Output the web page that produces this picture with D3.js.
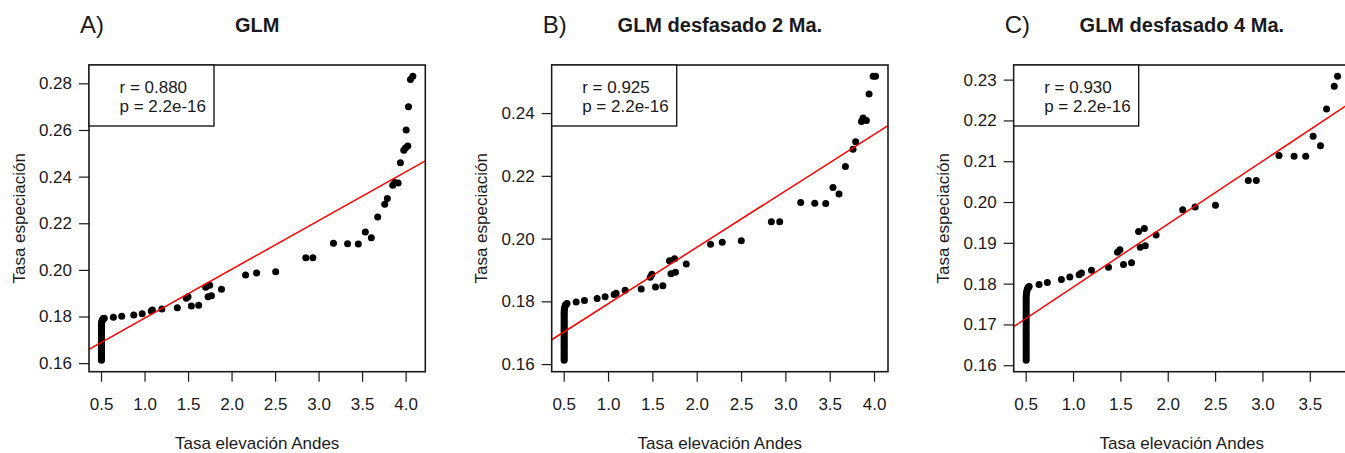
<!DOCTYPE html>
<html>
<head>
<meta charset="utf-8">
<script src="https://cdn.jsdelivr.net/npm/d3@7"></script>
<style>
  html, body { margin: 0; padding: 0; background: #fff; }
  svg { display: block; font-family: "Liberation Sans", Arial, sans-serif; }
</style>
</head>
<body>
<div id="chart"></div>
<script>
// Panel letters, titles and fit statistics
const panelLetters = ['A)', 'B)', 'C)'];
const panelTitles = ['GLM', 'GLM desfasado 2 Ma.', 'GLM desfasado 4 Ma.'];
const rValues = ['0.880', '0.925', '0.930'];
const pValues = ['2.2e-16', '2.2e-16', '2.2e-16'];

// Fitted regression lines (intercept, slope)
const intercepts = [0.1584, 0.1612, 0.1637];
const slopes = [0.0209, 0.0180, 0.01543];

// Tick labels
const xTicksAB = [0.5, 1.0, 1.5, 2.0, 2.5, 3.0, 3.5, 4.0];
const xTicksC = [0.5, 1.0, 1.5, 2.0, 2.5, 3.0, 3.5];
const yTicksA = [0.16, 0.18, 0.20, 0.22, 0.24, 0.26, 0.28];
const yTicksB = [0.16, 0.18, 0.20, 0.22, 0.24];
const yTicksC = [0.16, 0.17, 0.18, 0.19, 0.20, 0.21, 0.22, 0.23];

// Dense column of points at the lowest elevation rate (same in all panels)
const colX = [0.505, 0.505, 0.505, 0.505, 0.505, 0.505, 0.505, 0.505, 0.505, 0.505,
              0.505, 0.505, 0.505, 0.505, 0.505, 0.505, 0.505, 0.505, 0.505, 0.505,
              0.505, 0.505, 0.505, 0.505, 0.505, 0.505, 0.505, 0.507, 0.510, 0.514,
              0.520, 0.528, 0.537];
const colY = [0.1612, 0.1618, 0.1624, 0.1630, 0.1636, 0.1642, 0.1648, 0.1654, 0.1660, 0.1666,
              0.1672, 0.1678, 0.1684, 0.1690, 0.1696, 0.1702, 0.1708, 0.1714, 0.1720, 0.1726,
              0.1732, 0.1738, 0.1744, 0.1750, 0.1756, 0.1762, 0.1768, 0.1774, 0.1779, 0.1784,
              0.1788, 0.1791, 0.1793];

// Panel A: GLM
const aX = [0.642, 0.738, 0.876, 0.973, 1.077, 1.090, 1.199, 1.377, 1.480, 1.500,
            1.538, 1.622, 1.703, 1.749, 1.730, 1.769, 1.884, 2.161, 2.288, 2.507,
            2.853, 2.934, 3.171, 3.333, 3.456, 3.537, 3.606, 3.679, 3.760, 3.790,
            3.852, 3.875, 3.914, 3.940, 3.979, 3.998, 4.025, 4.006, 4.033, 4.056, 4.083];
const aY = [0.1797, 0.1801, 0.1807, 0.1812, 0.1824, 0.1828, 0.1832, 0.1838, 0.1878, 0.1885,
            0.1845, 0.1848, 0.1925, 0.1934, 0.1885, 0.1889, 0.1917, 0.1978, 0.1987, 0.1992,
            0.2052, 0.2052, 0.2114, 0.2112, 0.2111, 0.2162, 0.2138, 0.2227, 0.2282, 0.2306,
            0.2363, 0.2375, 0.2373, 0.2460, 0.2513, 0.2523, 0.2531, 0.2600, 0.2700, 0.2816, 0.2830];

// Panel B: GLM lagged 2 Ma
const bX = [0.640, 0.734, 0.877, 0.967, 1.069, 1.091, 1.193, 1.374, 1.476, 1.494,
            1.535, 1.618, 1.693, 1.750, 1.710, 1.760, 1.882, 2.156, 2.288, 2.503,
            2.842, 2.936, 3.173, 3.331, 3.455, 3.537, 3.605, 3.677, 3.763, 3.793,
            3.858, 3.876, 3.914, 3.944, 3.990, 4.017];
const bY = [0.1798, 0.1803, 0.1809, 0.1815, 0.1822, 0.1826, 0.1835, 0.1839, 0.1877, 0.1886,
            0.1846, 0.1850, 0.1929, 0.1936, 0.1888, 0.1893, 0.1919, 0.1982, 0.1988, 0.1993,
            0.2054, 0.2054, 0.2115, 0.2113, 0.2112, 0.2163, 0.2142, 0.2230, 0.2285, 0.2309,
            0.2373, 0.2384, 0.2376, 0.2461, 0.2517, 0.2517];

// Panel C: GLM lagged 4 Ma
const cX = [0.641, 0.729, 0.877, 0.966, 1.064, 1.089, 1.195, 1.375, 1.470, 1.495,
            1.533, 1.618, 1.692, 1.753, 1.710, 1.763, 1.877, 2.158, 2.289, 2.504,
            2.851, 2.935, 3.175, 3.334, 3.457, 3.535, 3.613, 3.677, 3.758, 3.793];
const cY = [0.1798, 0.1803, 0.1810, 0.1816, 0.1822, 0.1826, 0.1833, 0.1840, 0.1877, 0.1883,
            0.1847, 0.1851, 0.1928, 0.1935, 0.1889, 0.1893, 0.1919, 0.1981, 0.1988, 0.1992,
            0.2053, 0.2053, 0.2114, 0.2112, 0.2112, 0.2161, 0.2138, 0.2228, 0.2284, 0.2308];

const panelX = [aX, bX, cX];
const panelY = [aY, bY, cY];
const panelXTicks = [xTicksAB, xTicksAB, xTicksC];
const panelYTicks = [yTicksA, yTicksB, yTicksC];

const width = 1345;
const height = 453;
const plotLefts = [89, 551.7, 1013.7];
const plotW = 336.3;
const plotTop = 65;
const plotBottom = 371.7;
const ink = '#1a1a1a';

const svg = d3.select('#chart').append('svg')
    .attr('width', width)
    .attr('height', height);

// R-style axis range: data extent padded 4% on each side
function padded(values) {
    const [lo, hi] = d3.extent(values);
    const pad = (hi - lo) * 0.04;
    return [lo - pad, hi + pad];
}

panelTitles.forEach((title, i) => {
    const left = plotLefts[i];
    const right = left + plotW;
    const cx = (left + right) / 2;

    const points = colX.map((x, k) => ({ x, y: colY[k] }))
        .concat(panelX[i].map((x, k) => ({ x, y: panelY[i][k] })));

    const x = d3.scaleLinear()
        .domain(padded(points.map(d => d.x)))
        .range([left, right]);
    const y = d3.scaleLinear()
        .domain(padded(points.map(d => d.y)))
        .range([plotBottom, plotTop]);

    const g = svg.append('g');

    // clip for regression line
    svg.append('clipPath')
        .attr('id', `clip${i}`)
        .append('rect')
        .attr('x', left)
        .attr('y', plotTop)
        .attr('width', plotW)
        .attr('height', plotBottom - plotTop);

    // x axis
    g.append('g')
        .attr('transform', `translate(0,${plotBottom})`)
        .call(d3.axisBottom(x)
            .tickValues(panelXTicks[i])
            .tickFormat(d3.format('.1f'))
            .tickSize(10)
            .tickPadding(16))
        .call(ax => ax.select('.domain').remove())
        .call(ax => ax.selectAll('line').attr('stroke', ink).attr('stroke-width', 1.2))
        .call(ax => ax.selectAll('text')
            .attr('fill', ink)
            .style('font-size', '17px')
            .style('font-family', '"Liberation Sans", Arial, sans-serif'));

    // y axis
    g.append('g')
        .attr('transform', `translate(${left},0)`)
        .call(d3.axisLeft(y)
            .tickValues(panelYTicks[i])
            .tickFormat(d3.format('.2f'))
            .tickSize(10)
            .tickPadding(7))
        .call(ax => ax.select('.domain').remove())
        .call(ax => ax.selectAll('line').attr('stroke', ink).attr('stroke-width', 1.2))
        .call(ax => ax.selectAll('text')
            .attr('fill', ink)
            .style('font-size', '17px')
            .style('font-family', '"Liberation Sans", Arial, sans-serif'));

    // points
    g.append('g').selectAll('circle')
        .data(points)
        .enter().append('circle')
        .attr('cx', d => x(d.x))
        .attr('cy', d => y(d.y))
        .attr('r', 3.5)
        .attr('fill', '#000');

    // regression line
    const [x0, x1] = x.domain();
    g.append('line')
        .attr('clip-path', `url(#clip${i})`)
        .attr('x1', x(x0))
        .attr('y1', y(intercepts[i] + slopes[i] * x0))
        .attr('x2', x(x1))
        .attr('y2', y(intercepts[i] + slopes[i] * x1))
        .attr('stroke', '#ff0000')
        .attr('stroke-width', 1.5);

    // plot box
    g.append('rect')
        .attr('x', left)
        .attr('y', plotTop)
        .attr('width', plotW)
        .attr('height', plotBottom - plotTop)
        .attr('fill', 'none')
        .attr('stroke', ink)
        .attr('stroke-width', 1.6);

    // legend box with r and p
    g.append('rect')
        .attr('x', left)
        .attr('y', plotTop)
        .attr('width', 125)
        .attr('height', 61)
        .attr('fill', '#fff')
        .attr('stroke', ink)
        .attr('stroke-width', 1.4);

    g.append('text')
        .attr('x', left + 30.5)
        .attr('y', 93)
        .attr('fill', ink)
        .style('font-size', '17px')
        .text(`r = ${rValues[i]}`);

    g.append('text')
        .attr('x', left + 30.5)
        .attr('y', 112)
        .attr('fill', ink)
        .style('font-size', '17px')
        .text(`p = ${pValues[i]}`);

    // title and panel letter
    g.append('text')
        .attr('x', cx)
        .attr('y', 32)
        .attr('text-anchor', 'middle')
        .attr('fill', ink)
        .style('font-size', '20px')
        .style('font-weight', '700')
        .text(title);

    g.append('text')
        .attr('x', left - 9)
        .attr('y', 33)
        .attr('fill', ink)
        .style('font-size', '24px')
        .text(panelLetters[i]);

    // axis titles
    g.append('text')
        .attr('x', cx)
        .attr('y', 449)
        .attr('text-anchor', 'middle')
        .attr('fill', ink)
        .style('font-size', '17px')
        .text('Tasa elevación Andes');

    g.append('text')
        .attr('transform', `translate(${left - 64.5},${(plotTop + plotBottom) / 2}) rotate(-90)`)
        .attr('text-anchor', 'middle')
        .attr('fill', ink)
        .style('font-size', '17px')
        .text('Tasa especiación');
});
</script>
</body>
</html>
